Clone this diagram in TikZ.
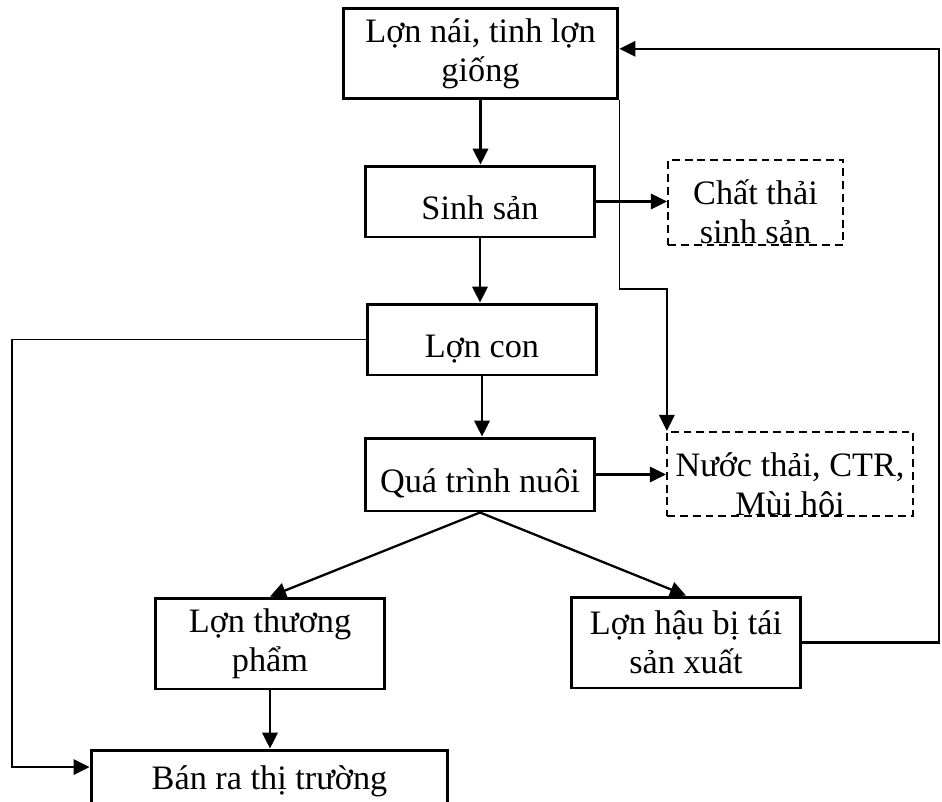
\documentclass[tikz,border=0pt]{standalone}
\usepackage{fontspec}
\setmainfont{Liberation Serif}
\usepackage{tikz}
\usetikzlibrary{arrows.meta,calc}
\newcommand{\flowtip}{-{Triangle[length=3.2mm,width=3.1mm]}}

\begin{document}
\begin{tikzpicture}[x=0.02cm,y=-0.02cm,
    box/.style={draw,line width=1.7pt,minimum width=4.6cm,minimum height=1.42cm,align=center,inner sep=2pt,font=\fontsize{19.5}{22}\selectfont},
    oneline/.style={text height=20.5pt,text depth=0pt},
    wastebox/.style={draw,line width=1.3pt,dash pattern=on 4.5pt off 2.8pt},
    wastetext/.style={align=center,inner sep=0pt,font=\fontsize{19.5}{22}\selectfont}]
    \useasboundingbox (0,0) rectangle (942,801);
    \node[box,minimum width=5.5cm,minimum height=1.82cm] (giong) at (480.5,53.5) {Lợn nái, tinh lợn\\giống};
    \node[box,oneline] (sinhsan) at (480,201.5) {Sinh sản};
    \node[box,oneline] (loncon) at (482,339.5) {Lợn con};
    \node[box,oneline,minimum height=1.46cm] (nuoi) at (480,474.5) {Quá trình nuôi};
    \node[box,minimum height=1.82cm] (thuongpham) at (270,643.5) {Lợn thương\\phẩm};
    \node[box,minimum height=1.82cm] (haubi) at (686,642.5) {Lợn hậu bị tái\\sản xuất};
    \node[box,minimum width=7.14cm,text height=5.1pt,text depth=0pt] (ban) at (269.5,785.5) {Bán ra thị trường};
    \node[wastebox,minimum width=3.5cm,minimum height=1.7cm] (chatthai) at (755.5,202.5) {};
    \node[wastetext] (chatthaitext) at ($(chatthai.center)+(0,9)$) {Chất thải\\sinh sản};
    \node[wastebox,minimum width=4.92cm,minimum height=1.68cm] (nuocthai) at (790,474) {};
    \node[wastetext] (nuocthaitext) at ($(nuocthai.center)+(0,10)$) {Nước thải, CTR,\\Mùi hôi};
    \coordinate (leftrail) at (12,0);
    \coordinate (rightrail) at (939,0);
    \coordinate (dropbend) at (0,289);
    \coordinate (banin) at ($(ban.north west)!0.25!(ban.south west)$);
    \coordinate (giongin) at ($(giong.north east)!0.45!(giong.south east)$);
    \draw[\flowtip,line width=1.3pt] (giong.south) -- (giong.south |- sinhsan.north);
    \draw[\flowtip,line width=1.3pt] (sinhsan.south) -- (sinhsan.south |- loncon.north);
    \draw[\flowtip,line width=1.3pt] (loncon.south) -- (loncon.south |- nuoi.north);
    \draw[\flowtip,line width=1.3pt] (nuoi.south) -- (thuongpham.north);
    \draw[\flowtip,line width=1.3pt] (nuoi.south) -- (haubi.north);
    \draw[\flowtip,line width=1.3pt] (thuongpham.south) -- (thuongpham.south |- ban.north);
    \draw[\flowtip,line width=1.2pt] (sinhsan.east) -- (sinhsan.east -| chatthai.west);
    \draw[\flowtip,line width=1.2pt] (nuoi.east) -- (nuoi.east -| nuocthai.west);
    \draw[\flowtip,line width=1.1pt] (giong.south east) -- (giong.south east |- dropbend) -| ($(nuocthai.north west)+(1,0)$);
    \draw[\flowtip,line width=1.05pt] (loncon.west) -- (loncon.west -| leftrail) |- (banin);
    \draw[\flowtip,line width=1.2pt] (haubi.east) -- (haubi.east -| rightrail) |- (giongin);
\end{tikzpicture}
\end{document}
